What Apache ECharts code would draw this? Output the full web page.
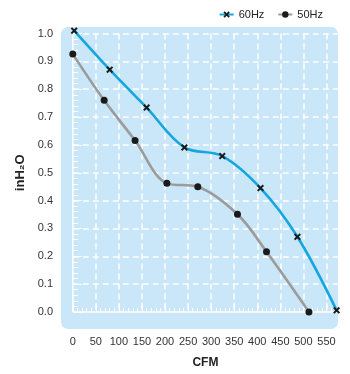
<!DOCTYPE html>
<html>
<head>
<meta charset="utf-8">
<script src="https://cdn.jsdelivr.net/npm/echarts@6/dist/echarts.min.js"></script>
<style>html,body{margin:0;padding:0;background:#fff}#c{width:350px;height:374px}</style>
</head>
<body>
<div id="c"></div>
<script>
// Data
const seriesNames = ['60Hz', '50Hz'];
const cfm60 = [3, 80, 160, 242, 324, 407, 487, 572];
const pres60 = [1.01, 0.87, 0.734, 0.591, 0.56, 0.445, 0.27, 0.006];
const cfm50 = [0, 68, 135, 204, 271, 357, 420, 512];
const pres50 = [0.926, 0.76, 0.616, 0.462, 0.45, 0.351, 0.216, 0.0];
const xTicks = [0, 50, 100, 150, 200, 250, 300, 350, 400, 450, 500, 550];
const xAxisEnd = 575;
const yTicks = [0.0, 0.1, 0.2, 0.3, 0.4, 0.5, 0.6, 0.7, 0.8, 0.9, 1.0];

const FONT = '"Liberation Sans", Arial, sans-serif';
const crossPath = 'path://M2,0 L5,3 L8,0 L10,2 L7,5 L10,8 L8,10 L5,7 L2,10 L0,8 L3,5 L0,2 Z';

const chart = echarts.init(document.getElementById('c'), null, {renderer: 'canvas'});
const pair = (xs, ys) => xs.map((x, i) => [x, ys[i]]);

const option = {
  animation: false,
  backgroundColor: '#ffffff',
  textStyle: {fontFamily: FONT},
  legend: {
    right: 22, top: 4,
    itemWidth: 14, itemHeight: 8, itemGap: 13,
    textStyle: {fontFamily: FONT, fontSize: 11, color: '#222'},
    data: seriesNames
  },
  grid: {left: 72.8, right: 12, top: 33.5, bottom: 59, containLabel: false},
  xAxis: {
    type: 'value', min: xTicks[0], max: xAxisEnd, interval: 50,
    offset: 17,
    name: 'CFM', nameLocation: 'middle', nameGap: 28,
    nameTextStyle: {fontFamily: FONT, fontWeight: 'bold', fontSize: 12, color: '#222'},
    axisLine: {show: false},
    axisTick: {show: true, inside: true, length: 9, lineStyle: {color: '#ffffff', width: 1}},
    minorTick: {show: true, splitNumber: 5, length: 4, lineStyle: {color: '#ffffff', width: 1}},
    axisLabel: {margin: 7, fontFamily: FONT, fontSize: 11, color: '#333',
      showMaxLabel: false,
      formatter: v => (xTicks.indexOf(v) >= 0 ? String(v) : '')},
    splitLine: {show: true, showMinLine: false, showMaxLine: false,
      lineStyle: {color: '#ffffff', type: [6, 4], width: 1.5}}
  },
  yAxis: {
    type: 'value', min: yTicks[0], max: yTicks[yTicks.length - 1], interval: 0.1,
    offset: 11.8,
    name: 'inH₂O', nameLocation: 'middle', nameGap: 19, nameRotate: 90,
    nameTextStyle: {fontFamily: FONT, fontWeight: 'bold', fontSize: 13, color: '#222'},
    axisLine: {show: false},
    axisTick: {show: true, inside: true, length: 9, lineStyle: {color: '#ffffff', width: 1}},
    minorTick: {show: true, splitNumber: 5, length: 5, lineStyle: {color: '#ffffff', width: 1}},
    axisLabel: {margin: 8, fontFamily: FONT, fontSize: 11, color: '#333',
      formatter: v => v.toFixed(1)},
    splitLine: {show: true, showMinLine: false, showMaxLine: true,
      lineStyle: {color: '#ffffff', type: [6, 4], width: 1.5}}
  },
  series: [
    {
      name: seriesNames[0], type: 'line', data: pair(cfm60, pres60),
      smooth: 0.35, clip: false, z: 3,
      symbol: crossPath, symbolSize: 7,
      lineStyle: {color: '#15a6df', width: 2.6},
      itemStyle: {color: '#1a1a1a'}
    },
    {
      name: seriesNames[1], type: 'line', data: pair(cfm50, pres50),
      smooth: 0.35, clip: false, z: 2,
      symbol: 'circle', symbolSize: 7,
      lineStyle: {color: '#9b9b9b', width: 2.6},
      itemStyle: {color: '#1a1a1a'}
    }
  ]
};
chart.setOption(option);

// Decorative plot background and white zero lines, positioned from the axes
const p00 = chart.convertToPixel({gridIndex: 0}, [0, 0]);
const pMax = chart.convertToPixel({gridIndex: 0}, [xAxisEnd, yTicks[yTicks.length - 1]]);
const bgLeft = p00[0] - 11.8, bgBottom = p00[1] + 17;
const bgTop = pMax[1] - 6.5, bgRight = pMax[0];
chart.setOption({
  graphic: [
    {type: 'rect', z: -10, silent: true,
      shape: {x: bgLeft, y: bgTop, width: bgRight - bgLeft, height: bgBottom - bgTop, r: 7},
      style: {fill: '#c9e7f8'}},
    {type: 'line', z: -5, silent: true,
      shape: {x1: p00[0], y1: bgTop + 1, x2: p00[0], y2: p00[1]},
      style: {stroke: '#ffffff', lineWidth: 1.5}},
    {type: 'line', z: -5, silent: true,
      shape: {x1: p00[0], y1: p00[1], x2: bgRight, y2: p00[1]},
      style: {stroke: '#ffffff', lineWidth: 1.5}}
  ]
});
</script>
</body>
</html>
